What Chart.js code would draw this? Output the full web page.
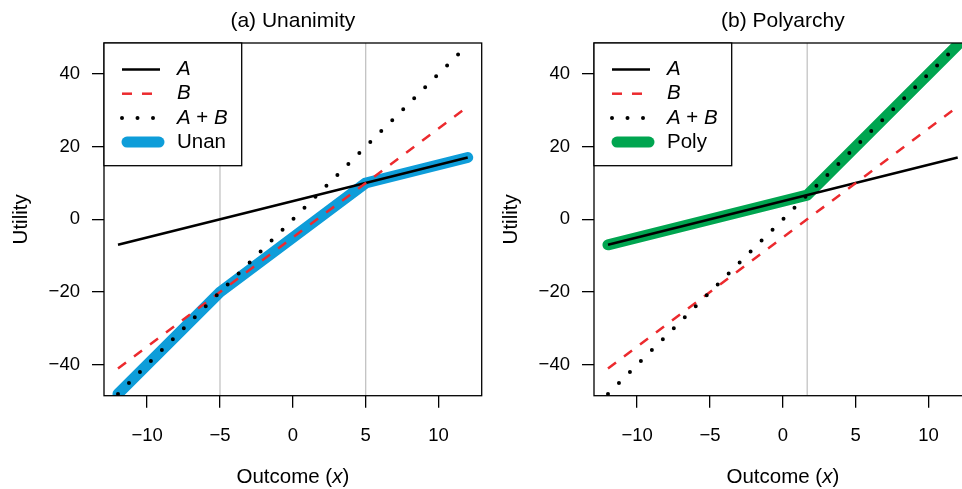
<!DOCTYPE html>
<html>
<head>
<meta charset="utf-8">
<script src="https://cdn.jsdelivr.net/npm/chart.js@4/dist/chart.umd.min.js"></script>
<style>
  body { margin: 0; width: 962px; height: 489px; overflow: hidden; background: #fff; position: relative; }
  .panel { position: absolute; top: 0; width: 490px; height: 489px; }
</style>
</head>
<body>
<div class="panel" style="left:0"><canvas id="unanChart" width="490" height="489"></canvas></div>
<div class="panel" style="left:490px"><canvas id="polyChart" width="490" height="489"></canvas></div>
<script>
// data
const lineX = [-12, 12];
const utilA = [-7, 17];
const utilB = [-41, 31];
const utilAB = [-48, 48];

const unanX = [-12, -5, 5, 12];
const unanY = [-48, -20, 10, 17];
const unanCuts = [-5, 5];

const polyX = [-12, 1.67, 12];
const polyY = [-7, 6.67, 48];
const polyCuts = [1.67];

const xTicks = [-10, -5, 0, 5, 10];
const yTicks = [-40, -20, 0, 20, 40];
const xMin = -12.96, xMax = 12.96;
const yMin = -48.5, yMax = 48.5;

const FONT = "'Liberation Sans', Arial, sans-serif";
const RED = "#EC2A2E";

function pts(xs, ys) {
    return xs.map((x, i) => ({ x: x, y: ys[i] }));
}
function fmt(v) {
    return v < 0 ? "\u2212" + Math.abs(v) : String(v);
}

// text with italic pieces
function richText(ctx, parts, x, y, align, size) {
    let total = 0;
    parts.forEach(p => {
        ctx.font = (p[1] ? "italic " : "") + size + "px " + FONT;
        total += ctx.measureText(p[0]).width;
    });
    let cx = align === "center" ? x - total / 2 : x;
    ctx.textAlign = "left";
    ctx.textBaseline = "middle";
    parts.forEach(p => {
        ctx.font = (p[1] ? "italic " : "") + size + "px " + FONT;
        ctx.fillText(p[0], cx, y);
        cx += ctx.measureText(p[0]).width;
    });
}

function makePanel(id, title, thickLabel, thickColor, tx, ty, cuts) {
    const decor = {
        id: "decor",
        beforeDraw(chart) {
            const c = chart.ctx;
            c.save();
            c.fillStyle = "#fff";
            c.fillRect(0, 0, chart.width, chart.height);
            c.restore();
        },
        afterDraw(chart) {
            const c = chart.ctx;
            const a = chart.chartArea;
            c.save();
            c.fillStyle = "#000";
            c.strokeStyle = "#000";
            c.lineWidth = 1.3;
            c.strokeRect(a.left, a.top, a.right - a.left, a.bottom - a.top);

            // titles
            richText(c, [[title, false]], (a.left + a.right) / 2, 21, "center", 21);
            richText(c, [["Outcome (", false], ["x", true], [")", false]], (a.left + a.right) / 2, 477, "center", 20.5);
            c.save();
            c.translate(21, (a.top + a.bottom) / 2);
            c.rotate(-Math.PI / 2);
            richText(c, [["Utility", false]], 0, 0, "center", 20.5);
            c.restore();

            // legend
            const lx = a.left, ly = a.top, lw = 137.7, lh = 122.7;
            c.fillStyle = "#fff";
            c.fillRect(lx, ly, lw, lh);
            c.strokeStyle = "#000";
            c.lineWidth = 1.3;
            c.strokeRect(lx, ly, lw, lh);
            const items = [
                { parts: [["A", true]], color: "#000", width: 2.5, dash: [], cap: "butt" },
                { parts: [["B", true]], color: RED, width: 2.5, dash: [10, 10], cap: "butt" },
                { parts: [["A", true], [" + ", false], ["B", true]], color: "#000", width: 4, dash: [0, 15.5], cap: "round" },
                { parts: [[thickLabel, false]], color: thickColor, width: 11, dash: [], cap: "round" }
            ];
            items.forEach((it, i) => {
                const y = ly + 26.5 + i * 24.2;
                c.save();
                c.strokeStyle = it.color;
                c.lineWidth = it.width;
                c.setLineDash(it.dash);
                c.lineCap = it.cap;
                c.beginPath();
                if (it.cap === "round" && it.width > 5) {
                    c.moveTo(lx + 23, y); c.lineTo(lx + 55, y);
                } else if (it.cap === "round") {
                    c.moveTo(lx + 18, y); c.lineTo(lx + 57, y);
                } else {
                    c.moveTo(lx + 18, y); c.lineTo(lx + 56, y);
                }
                c.stroke();
                c.restore();
                c.fillStyle = "#000";
                richText(c, it.parts, lx + 73, y, "left", 20.5);
            });
            c.restore();
        }
    };

    const cutSets = cuts.map(cx => ({
        data: pts([cx, cx], [yMin, yMax]),
        borderColor: "#BEBEBE",
        borderWidth: 1.2,
        pointRadius: 0,
        order: 30
    }));

    new Chart(document.getElementById(id), {
        type: "line",
        data: {
            datasets: cutSets.concat([
                {
                    label: thickLabel,
                    data: pts(tx, ty),
                    borderColor: thickColor,
                    borderWidth: 11,
                    borderCapStyle: "round",
                    borderJoinStyle: "round",
                    pointRadius: 0,
                    order: 20
                },
                {
                    label: "A",
                    data: pts(lineX, utilA),
                    borderColor: "#000",
                    borderWidth: 2.5,
                    pointRadius: 0,
                    order: 3
                },
                {
                    label: "B",
                    data: pts(lineX, utilB),
                    borderColor: RED,
                    borderWidth: 2.5,
                    borderDash: [10, 10],
                    pointRadius: 0,
                    order: 2
                },
                {
                    label: "A + B",
                    data: pts(lineX, utilAB),
                    borderColor: "#000",
                    borderWidth: 4,
                    borderDash: [0, 15.5],
                    borderCapStyle: "round",
                    pointRadius: 0,
                    order: 1
                }
            ])
        },
        options: {
            responsive: false,
            devicePixelRatio: 1,
            animation: false,
            clip: 0,
            layout: { padding: { top: 43, right: 8.3, left: 0, bottom: 0 } },
            plugins: { legend: { display: false }, tooltip: { enabled: false }, title: { display: false } },
            scales: {
                x: {
                    type: "linear",
                    min: xMin, max: xMax,
                    afterBuildTicks: s => { s.ticks = xTicks.map(v => ({ value: v })); },
                    afterFit: s => { s.height = 93.3; },
                    border: { display: false },
                    grid: { drawOnChartArea: false, tickLength: 12, color: "#000", lineWidth: 1.3 },
                    ticks: { color: "#000", padding: 17, maxRotation: 0, font: { family: FONT, size: 18.5 }, callback: fmt }
                },
                y: {
                    type: "linear",
                    min: yMin, max: yMax,
                    afterBuildTicks: s => { s.ticks = yTicks.map(v => ({ value: v })); },
                    afterFit: s => { s.width = 104; },
                    border: { display: false },
                    grid: { drawOnChartArea: false, tickLength: 12, color: "#000", lineWidth: 1.3 },
                    ticks: { color: "#000", padding: 12, font: { family: FONT, size: 18.5 }, callback: fmt }
                }
            }
        },
        plugins: [decor]
    });
}

makePanel("unanChart", "(a) Unanimity", "Unan", "#0E9DD9", unanX, unanY, unanCuts);
makePanel("polyChart", "(b) Polyarchy", "Poly", "#00A550", polyX, polyY, polyCuts);
</script>
</body>
</html>
